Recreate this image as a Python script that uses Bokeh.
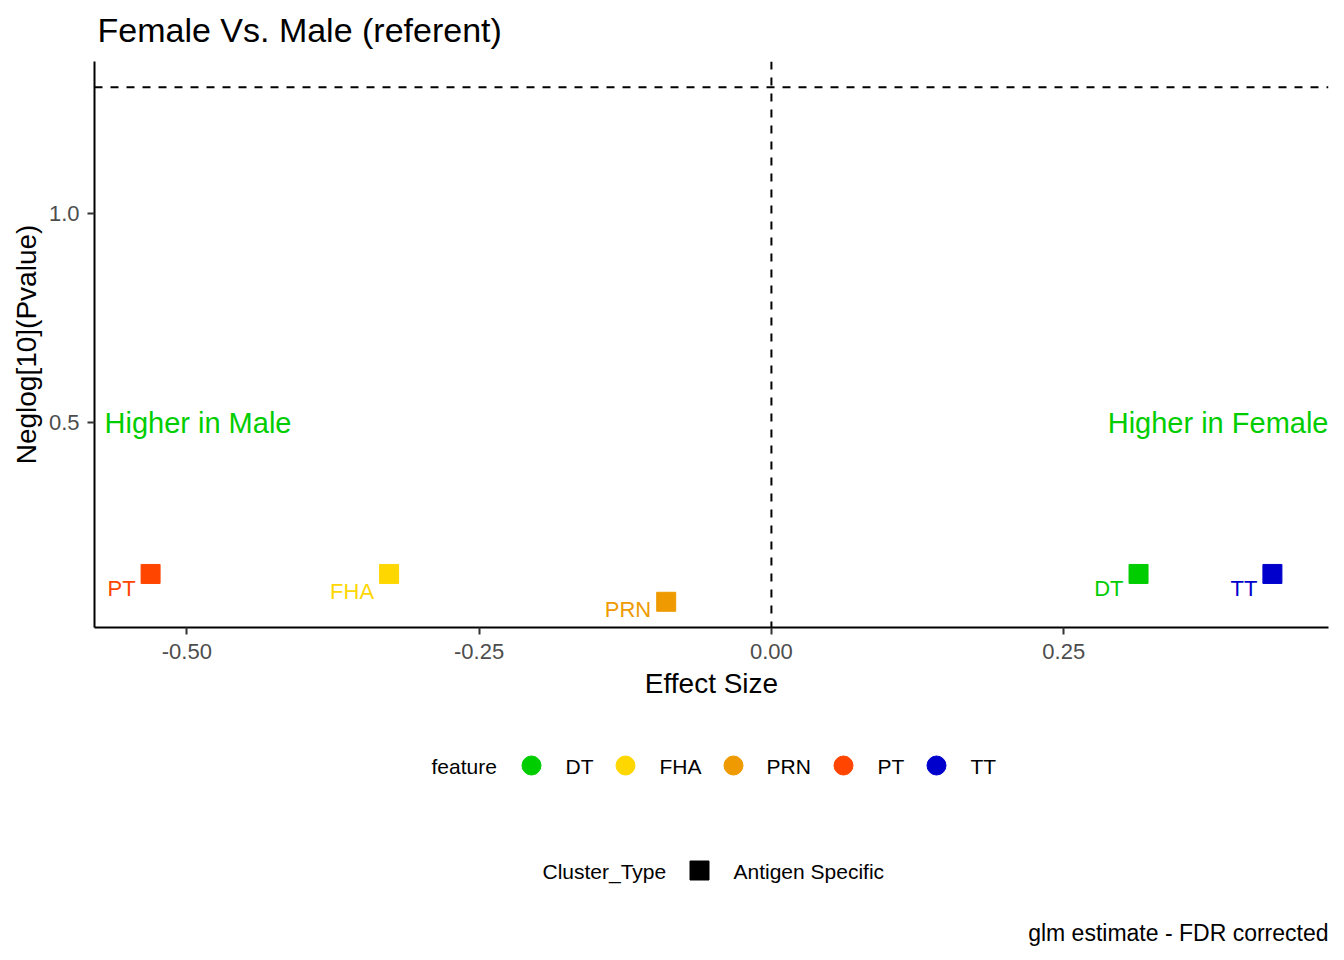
import math
from bokeh.plotting import figure
from bokeh.models import Range1d, Span, Label, ColumnDataSource, FixedTicker
from bokeh.layouts import column
from bokeh.embed import file_html
from bokeh.resources import INLINE
from bokeh.core.properties import value

# ---------------- data ----------------
features = ["DT", "FHA", "PRN", "PT", "TT"]
effect_size = [0.314, -0.327, -0.090, -0.531, 0.4285]
neglog10_pvalue = [0.139, 0.139, 0.0726, 0.139, 0.139]
feature_colors = ["#00CD00", "#FFD700", "#EE9A00", "#FF4500", "#0000CD"]
cluster_types = ["Antigen Specific"]
p_threshold = 0.05

x_ticks = [-0.50, -0.25, 0.00, 0.25]
x_tick_labels = ["-0.50", "-0.25", "0.00", "0.25"]
y_ticks = [0.5, 1.0]
y_tick_labels = ["0.5", "1.0"]

# ---------------- styling / layout constants ----------------
FONT = "Liberation Sans"
label_dy = [15, 17.5, 7.5, 15, 14.5]   # repel-like offsets of point labels (px)
W = 1340
BORDER_L, BORDER_R = 94, 12
FRAME_L, FRAME_R = BORDER_L, W - BORDER_R

thr = -math.log10(p_threshold)
xmin, xmax = min(effect_size), max(effect_size)
xpad = 0.05 * (xmax - xmin)
yvals = neglog10_pvalue + [thr]
ymin, ymax = min(yvals), max(yvals)
ypad = 0.05 * (ymax - ymin)

x_range = Range1d(xmin - xpad, xmax + xpad)
y_range = Range1d(ymin - ypad, ymax + ypad)

H1 = 708
p = figure(width=W, height=H1, x_range=x_range, y_range=y_range,
           output_backend="svg", toolbar_location=None,
           min_border_left=BORDER_L, min_border_right=BORDER_R,
           min_border_top=61, min_border_bottom=81)
p.outline_line_color = None
p.grid.visible = False
p.background_fill_color = "white"

p.title.text = "Female Vs. Male (referent)"
p.title.text_font = FONT
p.title.text_font_size = "34px"
p.title.text_font_style = "normal"
p.title.text_color = "black"
p.title.align = "left"
p.title.vertical_align = "top"
p.title.offset = 3
p.title.standoff = 21

for ax in (p.xaxis[0], p.yaxis[0]):
    ax.axis_line_color = "black"
    ax.axis_line_width = 2
    ax.major_tick_line_color = "#333333"
    ax.major_tick_line_width = 2
    ax.major_tick_out = 7
    ax.major_tick_in = 0
    ax.minor_tick_line_color = None
    ax.major_label_text_font = FONT
    ax.major_label_text_font_size = "22px"
    ax.major_label_text_color = "#4D4D4D"
    ax.axis_label_text_font = FONT
    ax.axis_label_text_font_size = "28px"
    ax.axis_label_text_font_style = "normal"
    ax.axis_label_text_color = "black"

p.xaxis.ticker = FixedTicker(ticks=x_ticks)
p.xaxis.major_label_overrides = {t: s for t, s in zip(x_ticks, x_tick_labels)}
p.yaxis.ticker = FixedTicker(ticks=y_ticks)
p.yaxis.major_label_overrides = {t: s for t, s in zip(y_ticks, y_tick_labels)}
p.xaxis.axis_label = "Effect Size"
p.yaxis.axis_label = "Neglog[10](Pvalue)"
p.xaxis.major_label_standoff = 9
p.xaxis.axis_label_standoff = 6
p.yaxis.major_label_standoff = 8
p.yaxis.axis_label_standoff = 4

p.add_layout(Span(location=0, dimension="height", line_color="black",
                  line_width=2, line_dash="8 8"))
p.add_layout(Span(location=thr, dimension="width", line_color="black",
                  line_width=2, line_dash="8 8"))

src = ColumnDataSource(dict(x=effect_size, y=neglog10_pvalue, feature=features,
                            color=feature_colors, dy=label_dy))
p.scatter("x", "y", source=src, marker="square", size=19,
          fill_color="color", line_color="color")
p.text("x", "y", text="feature", source=src, text_color="color",
       text_align="right", text_baseline="middle", x_offset=-15, y_offset="dy",
       text_font=value(FONT), text_font_size="22px")

p.add_layout(Label(x=x_range.start, y=0.5, x_offset=10, text="Higher in Male",
                   text_align="left", text_baseline="middle", text_color="#00CD00",
                   text_font=FONT, text_font_size="29px"))
p.add_layout(Label(x=x_range.end, y=0.5, text="Higher in Female",
                   text_align="right", text_baseline="middle", text_color="#00CD00",
                   text_font=FONT, text_font_size="29px"))

# ---------------- legend + caption panel (coordinates = page pixels) ----------------
H2 = 250
q = figure(width=W, height=H2, x_range=Range1d(FRAME_L, FRAME_R),
           y_range=Range1d(H1 + H2, H1),
           x_axis_location=None, y_axis_location=None,
           output_backend="svg", toolbar_location=None,
           min_border_left=BORDER_L, min_border_right=BORDER_R,
           min_border_top=0, min_border_bottom=0)
q.outline_line_color = None
q.grid.visible = False

LEG_FS = "21px"
row1_y = 766
legend_key_x = [531, 625, 733, 843, 936]
legend_lab_x = [565, 659, 766, 877, 970]
q.text(x=[431], y=[row1_y], text=["feature"], text_font=value(FONT),
       text_font_size=LEG_FS, text_color="black", text_baseline="middle")
q.scatter(x=legend_key_x, y=[row1_y - 1] * len(features), marker="circle", size=19,
          fill_color=feature_colors, line_color=feature_colors)
q.text(x=legend_lab_x, y=[row1_y] * len(features), text=features,
       text_font=value(FONT), text_font_size=LEG_FS, text_color="black",
       text_baseline="middle")

row2_y = 871
q.text(x=[542], y=[row2_y], text=["Cluster_Type"], text_font=value(FONT),
       text_font_size=LEG_FS, text_color="black", text_baseline="middle")
q.scatter(x=[699], y=[row2_y - 1], marker="square", size=19,
          fill_color="black", line_color="black")
q.text(x=[733], y=[row2_y], text=cluster_types, text_font=value(FONT),
       text_font_size=LEG_FS, text_color="black", text_baseline="middle")

q.text(x=[1328], y=[932], text=["glm estimate - FDR corrected"], text_font=value(FONT),
       text_font_size="23px", text_color="black", text_align="right",
       text_baseline="middle")

layout = column(p, q)
open("out.html", "w").write(file_html(layout, INLINE))
